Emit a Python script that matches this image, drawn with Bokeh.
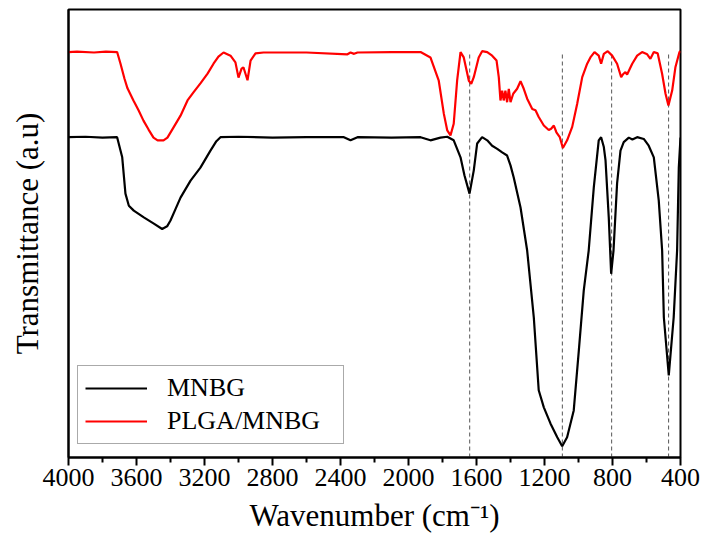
from bokeh.plotting import figure
from bokeh.models import Range1d, FixedTicker, Legend, LegendItem
from bokeh.embed import file_html
from bokeh.resources import INLINE

# ---- data ----
mnbg_wn = [4000, 3900, 3800, 3714, 3684, 3665, 3645, 3616, 3557, 3498, 3449, 3420, 3400, 3370,
           3341, 3282, 3224, 3165, 3130, 3106, 3000, 2800, 2600, 2380, 2341, 2300, 2100, 1929,
           1871, 1812, 1772, 1734, 1694, 1671, 1641, 1616, 1596, 1567, 1537, 1508, 1478, 1449,
           1420, 1400, 1381, 1341, 1302, 1263, 1234, 1204, 1165, 1125, 1096, 1067, 1028, 998,
           969, 940, 910, 881, 867, 851, 841, 822, 808, 794, 773, 753, 734, 704, 683, 655, 616,
           587, 557, 528, 508, 498, 469, 440, 420, 410, 400]
mnbg_t = [71.5, 71.6, 71.4, 71.5, 67.0, 58.9, 56.2, 55.1, 53.6, 52.2, 51.0, 51.6, 52.9, 55.5,
          58.0, 61.8, 64.7, 68.5, 70.6, 71.5, 71.6, 71.4, 71.5, 71.5, 70.8, 71.5, 71.4, 71.5,
          70.8, 71.4, 71.6, 70.8, 67.0, 63.0, 58.9, 64.1, 70.1, 71.5, 70.8, 69.6, 68.9, 68.1,
          67.4, 65.2, 62.5, 55.8, 46.2, 31.3, 15.0, 11.2, 7.6, 4.5, 2.5, 4.5, 10.5, 23.9,
          37.3, 46.2, 60.3, 70.8, 71.5, 69.3, 66.3, 53.6, 41.0, 46.2, 61.2, 68.5, 70.4, 71.4,
          71.0, 71.5, 71.1, 69.6, 67.0, 57.4, 46.2, 31.3, 18.3, 31.3, 46.2, 64.7, 71.4]

plga_wn = [4000, 3950, 3850, 3780, 3714, 3694, 3671, 3653, 3618, 3588, 3559, 3529, 3500, 3476,
           3441, 3418, 3382, 3341, 3300, 3265, 3224, 3182, 3147, 3118, 3088, 3047, 3018, 3000,
           2982, 2971, 2947, 2929, 2900, 2853, 2600, 2359, 2341, 2320, 2300, 2100, 1929, 1871,
           1822, 1792, 1772, 1753, 1734, 1714, 1694, 1675, 1645, 1631, 1616, 1587, 1567, 1537,
           1508, 1482, 1469, 1459, 1449, 1440, 1430, 1420, 1410, 1400, 1384, 1361, 1341, 1322,
           1302, 1272, 1253, 1234, 1204, 1175, 1161, 1145, 1130, 1110, 1092, 1067, 1037, 1008,
           978, 949, 930, 906, 881, 867, 851, 828, 802, 773, 749, 737, 724, 714, 684, 655, 626,
           596, 577, 557, 534, 508, 488, 471, 449, 430, 406, 400]
plga_t = [90.5, 90.6, 90.4, 90.6, 90.5, 87.9, 84.6, 82.4, 79.7, 77.5, 75.2, 73.2, 71.4, 70.8,
          70.8, 71.4, 73.7, 76.3, 79.7, 81.5, 83.5, 85.7, 87.9, 89.5, 90.4, 89.7, 88.2, 84.8,
          86.8, 87.1, 84.2, 88.6, 90.2, 90.4, 90.4, 90.0, 90.4, 90.1, 90.4, 90.5, 90.5, 89.3,
          84.1, 76.7, 73.0, 71.9, 74.5, 84.1, 90.5, 89.3, 84.1, 83.4, 84.9, 89.3, 90.7, 90.5,
          89.7, 88.6, 84.9, 79.7, 81.9, 79.7, 81.9, 79.3, 82.3, 79.3, 81.2, 82.3, 84.0, 82.3,
          80.1, 77.8, 77.5, 76.0, 74.1, 73.1, 73.4, 74.1, 72.6, 71.5, 69.1, 70.8, 73.8, 78.9,
          84.9, 87.9, 89.3, 90.5, 89.7, 87.9, 90.1, 90.7, 89.7, 87.9, 84.9, 85.6, 86.0, 85.5,
          87.9, 89.7, 90.5, 90.0, 89.0, 90.5, 90.2, 85.6, 81.2, 78.6, 81.9, 87.1, 90.5, 90.7]

marker_wn = [1640, 1095, 805, 470]
marker_top = [90.4, 90.4, 90.4, 90.4]
marker_bottom = [0, 0, 0, 0]

x_ticks = [4000, 3600, 3200, 2800, 2400, 2000, 1600, 1200, 800, 400]
x_minor = [3800, 3400, 3000, 2600, 2200, 1800, 1400, 1000, 600]

FONT = "Liberation Serif"

p = figure(width=700, height=540, output_backend="svg", toolbar_location=None,
           x_range=Range1d(4000, 400), y_range=Range1d(0, 100),
           min_border_left=68, min_border_right=20, min_border_top=9, min_border_bottom=83)

p.grid.visible = False
p.outline_line_color = "black"
p.outline_line_width = 2
p.background_fill_color = "white"

p.segment(x0=marker_wn, x1=marker_wn, y0=marker_bottom, y1=marker_top,
          line_color="#555555", line_width=1, line_dash="4 3")

r1 = p.line(mnbg_wn, mnbg_t, line_color="black", line_width=2.2)
r2 = p.line(plga_wn, plga_t, line_color="#ff0000", line_width=2.2)

xa = p.xaxis[0]
xa.ticker = FixedTicker(ticks=x_ticks, minor_ticks=x_minor)
xa.axis_line_width = 2
xa.major_tick_line_width = 2
xa.minor_tick_line_width = 2
xa.major_tick_in = 0
xa.major_tick_out = 8
xa.minor_tick_in = 0
xa.minor_tick_out = 5
xa.major_label_text_font = FONT
xa.major_label_text_font_size = "26px"
xa.major_label_text_color = "black"
xa.major_label_standoff = 3
xa.axis_label = "Wavenumber (cm\u207b\u00b9)"
xa.axis_label_text_font = FONT
xa.axis_label_text_font_size = "31px"
xa.axis_label_text_font_style = "normal"
xa.axis_label_text_color = "black"
xa.axis_label_standoff = 9

ya = p.yaxis[0]
ya.ticker = FixedTicker(ticks=[])
ya.axis_line_width = 2
ya.major_tick_in = 0
ya.major_tick_out = 0
ya.minor_tick_in = 0
ya.minor_tick_out = 0
ya.major_label_text_font_size = "0px"
ya.major_label_standoff = 0
ya.axis_label = "Transmittance (a.u)"
ya.axis_label_text_font = FONT
ya.axis_label_text_font_size = "31px"
ya.axis_label_text_font_style = "normal"
ya.axis_label_text_color = "black"
ya.axis_label_standoff = 24

legend = Legend(items=[LegendItem(label="MNBG", renderers=[r1]),
                       LegendItem(label="PLGA/MNBG", renderers=[r2])],
                location=(9, 13), padding=7, spacing=3, margin=0,
                glyph_width=62, glyph_height=30, label_standoff=20, label_width=169,
                label_text_font=FONT, label_text_font_size="26px", label_text_color="black",
                border_line_color="#555555", border_line_width=1,
                background_fill_color="white", background_fill_alpha=1.0)
p.add_layout(legend)

open("out.html", "w").write(file_html(p, INLINE))
